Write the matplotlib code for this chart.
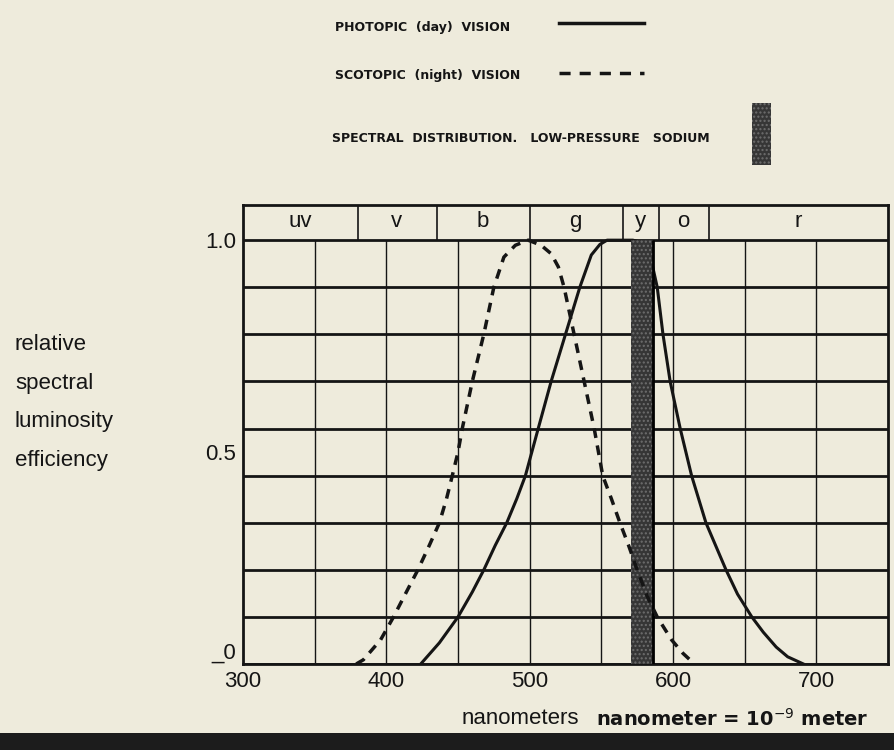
import matplotlib
matplotlib.use('Agg')
import matplotlib.pyplot as plt
from matplotlib.lines import Line2D
from matplotlib.patches import Rectangle
import numpy as np

# photopic (day) curve
photopic_nm = [424, 437, 450, 460, 468, 476, 484, 491, 497, 506, 515, 525, 535,
               543, 549, 554, 560, 566, 572, 578, 582, 585, 589, 593, 598, 605,
               613, 623, 637, 645, 655, 663, 672, 680, 691]
photopic_val = [0, 0.05, 0.111, 0.17, 0.222, 0.28, 0.333, 0.39, 0.444, 0.556,
                0.667, 0.778, 0.889, 0.965, 0.99, 1.0, 1.0, 1.0, 1.0, 0.995,
                0.97, 0.95, 0.889, 0.778, 0.667, 0.556, 0.444, 0.333, 0.222,
                0.165, 0.111, 0.075, 0.04, 0.017, 0.0]

# scotopic (night) curve
scotopic_nm = [379, 384, 396, 405, 414, 422, 430, 437, 442, 446, 450, 453, 460,
               468, 475, 482, 490, 499, 508, 515, 520, 524, 531, 538, 545, 551,
               557, 563, 569, 575, 582, 589, 599, 607, 615]
scotopic_val = [0, 0.01, 0.057, 0.111, 0.17, 0.222, 0.28, 0.333, 0.39, 0.444,
                0.5, 0.556, 0.667, 0.778, 0.889, 0.96, 0.988, 1.0, 0.988, 0.968,
                0.937, 0.889, 0.778, 0.667, 0.556, 0.444, 0.39, 0.333, 0.28,
                0.222, 0.16, 0.111, 0.057, 0.025, 0]

sodium_band = [571, 586]

band_edges = [380, 435, 500, 565, 590, 625]
band_names = ['uv', 'v', 'b', 'g', 'y', 'o', 'r']
band_centres = [340, 407, 467, 532, 577, 607, 687]

x_ticks = [300, 400, 500, 600, 700]
x_ticklabels = ['300', '400', '500', '600', '700']
y_ticks = [0, 0.5, 1.0]
y_ticklabels = ['_0', '0.5', '1.0']

paper = '#eeebdc'
ink = '#151515'
narrow = ['Liberation Sans', 'DejaVu Sans']

fig = plt.figure(figsize=(8.95, 7.5), dpi=100, facecolor=paper)
ax = fig.add_axes([243 / 895, 86 / 750, 645 / 895, 459 / 750])
ax.set_facecolor(paper)
ax.set_xlim(300, 750)
ax.set_ylim(0, 1.083)

# grid: 9 equal rows, 50 nm columns, colour band across the top
ax.hlines(np.linspace(0, 1, 10), 300, 750, color=ink, lw=2, zorder=1)
ax.vlines(np.arange(350, 750, 50), 0, 1, color=ink, lw=1, zorder=1)
ax.vlines(band_edges, 1, 1.083, color=ink, lw=1.2, zorder=1)
for name, c in zip(band_names, band_centres):
    ax.text(c, 1.043, name, ha='center', va='center', family=narrow,
            fontsize=16, color=ink)

ax.plot(photopic_nm, photopic_val, color=ink, lw=2.2, zorder=2.5)
ax.fill_between(sodium_band, 0, 1.0, facecolor='#363636', hatch='....',
                edgecolor='#6e6e6e', lw=0, zorder=3)
ax.vlines(sodium_band[1], 0, 1.0, color='black', lw=2, zorder=3)
ax.plot(scotopic_nm, scotopic_val, color=ink, lw=2.5, dashes=(2.8, 2.2),
        zorder=4)

for sp in ax.spines.values():
    sp.set_linewidth(2)
    sp.set_color(ink)

ax.set_xticks(x_ticks)
ax.set_xticklabels(x_ticklabels, family=narrow)
ax.set_yticks(y_ticks)
ylabs = ax.set_yticklabels(y_ticklabels, family=narrow)
ylabs[0].set_va('bottom')
ax.tick_params(length=0, labelsize=16, colors=ink, pad=5)

ax.set_xlabel('nanometers', family=narrow, fontsize=16, color=ink)
ax.xaxis.set_label_coords(0.43, -0.095)

fig.text(15 / 895, 1 - 334 / 750, 'relative\nspectral\nluminosity\nefficiency',
         ha='left', va='top', family=narrow, fontsize=16, color=ink,
         linespacing=2.1)

fig.text(596 / 895, 1 - 726 / 750, 'nanometer = 10$^{-9}$ meter',
         ha='left', va='baseline', fontsize=14, weight='bold', color=ink)

# legend block at the top
fig.text(335 / 895, 1 - 27 / 750, 'PHOTOPIC  (day)  VISION', ha='left',
         va='center', fontsize=9, weight='bold', color=ink)
fig.add_artist(Line2D([559 / 895, 644 / 895], [1 - 23 / 750] * 2,
                      transform=fig.transFigure, color=ink, lw=2.5))
fig.text(335 / 895, 1 - 75 / 750, 'SCOTOPIC  (night)  VISION', ha='left',
         va='center', fontsize=9, weight='bold', color=ink)
fig.add_artist(Line2D([559 / 895, 644 / 895], [1 - 73 / 750] * 2,
                      transform=fig.transFigure, color=ink, lw=2.5,
                      dashes=(3.2, 2.6)))
fig.text(332 / 895, 1 - 138 / 750,
         'SPECTRAL  DISTRIBUTION.   LOW-PRESSURE   SODIUM', ha='left',
         va='center', fontsize=9, weight='bold', color=ink)
fig.add_artist(Rectangle((752 / 895, 1 - 165 / 750), 19 / 895, 62 / 750,
                         transform=fig.transFigure, facecolor='#363636',
                         hatch='....', edgecolor='#6e6e6e', lw=0))

# dark strip along the bottom edge
fig.add_artist(Rectangle((0, 0), 1, 17 / 750, transform=fig.transFigure,
                         facecolor='#1c1c1c', lw=0))

fig.savefig('out.png', dpi=100, facecolor=paper)
